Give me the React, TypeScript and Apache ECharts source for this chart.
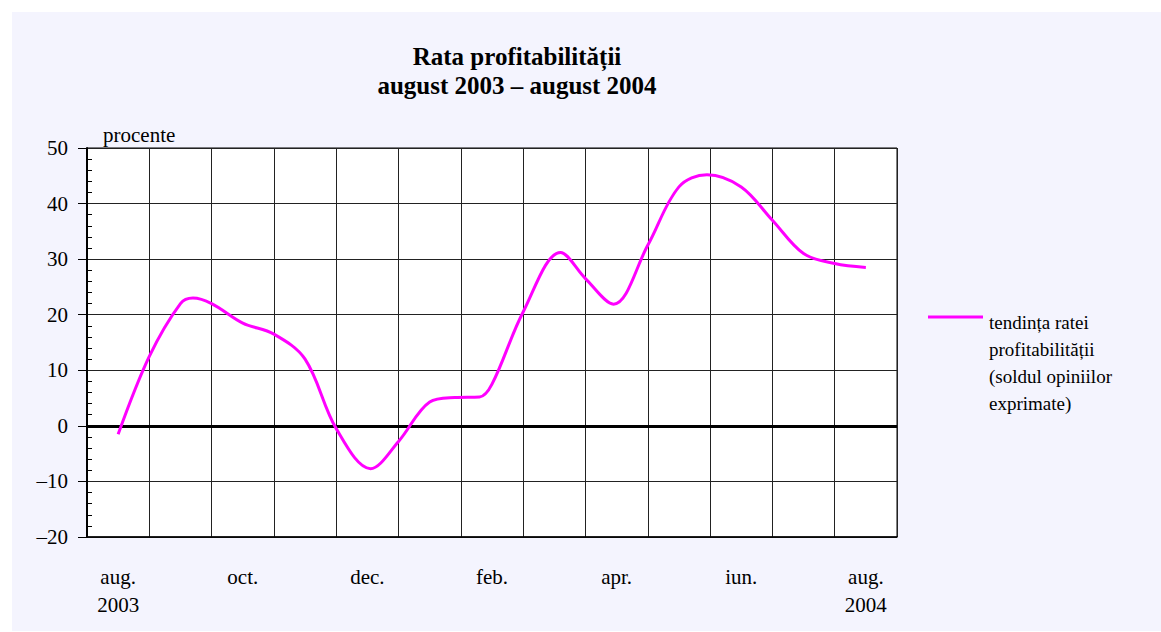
import React, { useEffect, useRef } from "react";
import * as echarts from "echarts";

const monthLabels = [
  "aug.\n2003", "sep.", "oct.", "nov.", "dec.", "ian.", "feb.",
  "mar.", "apr.", "mai", "iun.", "iul.", "aug.\n2004",
];
// position in months from Aug 2003 (0) to Aug 2004 (12)
const samplePos = [0, 0.5, 1.0, 1.2, 1.5, 2.0, 2.5, 3.0, 3.5, 4.05, 4.5, 5.0, 5.4, 5.8, 6.0, 6.5, 7.1, 7.5, 7.95, 8.5, 9.0, 9.45, 10.0, 10.5, 11.0, 11.5, 12.0];
const sampleVal = [-1.5, 12.5, 22, 23, 22, 18.5, 16.5, 12, -0.5, -7.7, -2.8, 4.3, 5.1, 5.2, 7.5, 20.5, 31.2, 26.5, 21.9, 32.5, 43, 45.2, 43, 37, 31, 29.2, 28.5];
const yMin = -20;
const yMax = 50;
const yStep = 10;

const titleLines = ["Rata profitabilității", "august 2003 – august 2004"];
const unitLabel = "procente";
const legendLines = ["tendința ratei", "profitabilității", "(soldul opiniilor", "exprimate)"];

const FONT = "'Liberation Serif', 'Times New Roman', serif";

export default function App() {
  const ref = useRef<HTMLDivElement>(null);
  useEffect(() => {
    document.body.style.margin = "0";
    const chart = echarts.init(ref.current!, null, { renderer: "svg" });
    const data = samplePos.map((p, i) => [p, sampleVal[i]]);
    chart.setOption({
      animation: false,
      backgroundColor: "#ffffff",
      textStyle: { fontFamily: FONT },
      grid: {
        left: 87, top: 148, right: 264, bottom: 95,
        show: true, backgroundColor: "#ffffff", borderColor: "#000", borderWidth: 1,
      },
      xAxis: [
        {
          type: "category",
          data: monthLabels,
          boundaryGap: true,
          position: "bottom",
          axisLine: { show: true, onZero: false, lineStyle: { color: "#000", width: 1.5 } },
          axisTick: { show: false },
          axisLabel: { interval: 1, color: "#000", fontFamily: FONT, fontSize: 21, lineHeight: 28, margin: 26 },
          splitLine: { show: true, interval: 0, lineStyle: { color: "#222", width: 1 } },
        },
        {
          type: "value", min: -0.5, max: 12.5, show: false, position: "bottom",
          axisLine: { onZero: false },
          splitLine: { show: false },
        },
      ],
      yAxis: [
        {
          type: "value", min: yMin, max: yMax, interval: yStep, position: "left",
          axisLine: { show: true, onZero: false, lineStyle: { color: "#000", width: 2 } },
          axisTick: { show: true, length: 9, lineStyle: { color: "#000", width: 1 } },
          axisLabel: {
            color: "#000", fontFamily: FONT, fontSize: 21, margin: 19,
            formatter: (v: number) => (v < 0 ? "–" + Math.abs(v) : String(v)),
          },
          splitLine: { show: true, lineStyle: { color: "#222", width: 1 } },
        },
        {
          type: "value", min: yMin, max: yMax, interval: yStep, position: "left",
          axisLine: { show: false, onZero: false },
          axisTick: { show: false, inside: true },
          axisLabel: { show: false },
          splitLine: { show: false },
          minorTick: { show: true, splitNumber: 5, length: 5, lineStyle: { color: "#000", width: 1 } },
        },
      ],
      series: [
        {
          type: "line",
          name: legendLines.join(" "),
          xAxisIndex: 1,
          yAxisIndex: 0,
          data,
          smooth: 0.35,
          symbol: "none",
          lineStyle: { color: "#ff00ff", width: 3 },
          markLine: {
            silent: true,
            symbol: ["none", "none"],
            label: { show: false },
            lineStyle: { color: "#000", width: 3, type: "solid" },
            data: [{ yAxis: 0 }],
            z: 1,
          },
          z: 3,
        },
      ],
      graphic: [
        { type: "rect", z: -100, shape: { x: 12, y: 12, width: 1149, height: 619 }, style: { fill: "#f4f4fe" } },
        { type: "text", x: 517, y: 56, style: { text: titleLines[0], font: `bold 25px ${FONT}`, fill: "#000", align: "center", verticalAlign: "middle" } },
        { type: "text", x: 517, y: 85, style: { text: titleLines[1], font: `bold 25px ${FONT}`, fill: "#000", align: "center", verticalAlign: "middle" } },
        { type: "text", x: 103, y: 135, style: { text: unitLabel, font: `21px ${FONT}`, fill: "#000", align: "left", verticalAlign: "middle" } },
        { type: "line", shape: { x1: 928, y1: 317, x2: 983, y2: 317 }, style: { stroke: "#ff00ff", lineWidth: 3 } },
        ...legendLines.map((t, i) => ({
          type: "text", x: 989, y: 322 + i * 27,
          style: { text: t, font: `19px ${FONT}`, fill: "#000", align: "left", verticalAlign: "middle" },
        })),
      ],
    });
    return () => chart.dispose();
  }, []);
  return <div ref={ref} style={{ width: 1161, height: 632, background: "#fff" }} />;
}
